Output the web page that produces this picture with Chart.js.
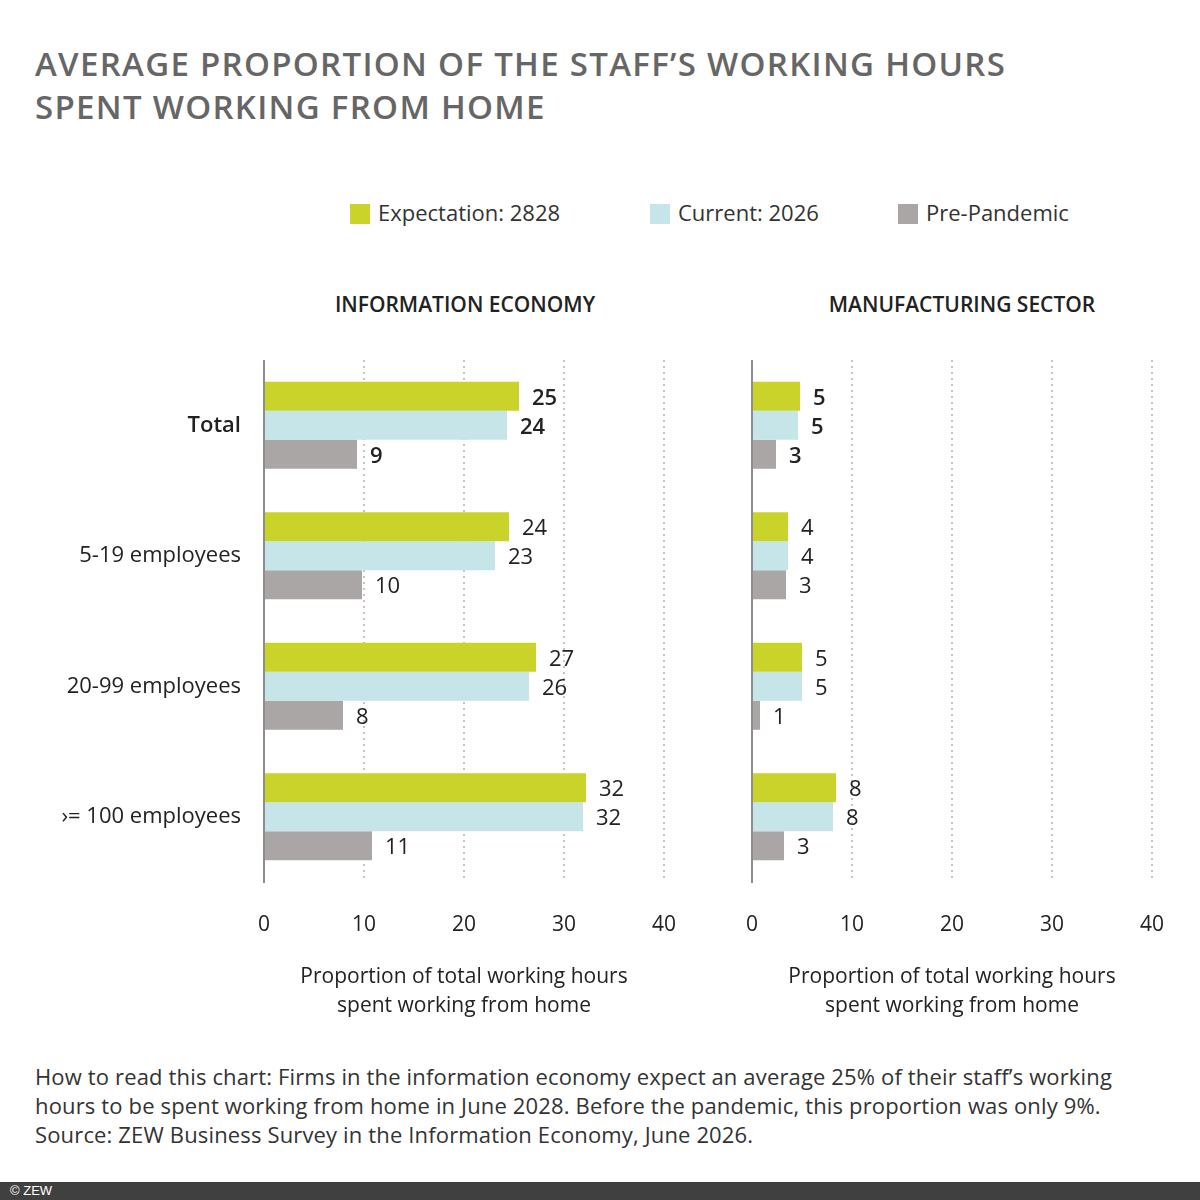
<!DOCTYPE html>
<html>
<head>
<meta charset="utf-8">
<script src="https://cdn.jsdelivr.net/npm/chart.js@4.4.1/dist/chart.umd.min.js"></script>
<style>
  body { margin: 0; width: 1200px; height: 1200px; position: relative; background: #fff; overflow: hidden;
         font-family: "Open Sans", "Noto Sans", sans-serif; color: #222; }
  .title { position: absolute; left: 35px; top: 42px; font-size: 33px; font-weight: 600; color: #666;
           letter-spacing: 1.3px; line-height: 43px; }
  .legend { position: absolute; top: 197px; left: 0; width: 1200px; height: 30px; font-size: 22px; color: #333; }
  .legend .item { position: absolute; top: 0; white-space: nowrap; }
  .legend .box { display: inline-block; width: 20px; height: 20px; vertical-align: -3px; margin-right: 8px; }
  .panel { position: absolute; top: 290px; font-size: 21px; font-weight: 600; color: #222; text-align: center; width: 400px; }
  .box-canvas { position: absolute; }
  .note { position: absolute; left: 35px; top: 1062px; font-size: 22px; line-height: 29px; color: #333; letter-spacing: 0.15px; }
  .foot { position: absolute; left: 0; top: 1182px; width: 1200px; height: 18px; background: #404040;
          color: #fff; font-family: "Liberation Sans", Arial, sans-serif; font-size: 13px; line-height: 18px; padding-left: 10px; box-sizing: border-box; }
</style>
</head>
<body>
<div class="title">AVERAGE PROPORTION OF THE STAFF’S WORKING HOURS<br>SPENT WORKING FROM HOME</div>
<div class="legend" id="legend"></div>
<div class="panel" style="left:265px">INFORMATION ECONOMY</div>
<div class="panel" style="left:762px">MANUFACTURING SECTOR</div>
<div class="box-canvas" style="left:0;top:360px;width:700px;height:672px"><canvas id="infoChart"></canvas></div>
<div class="box-canvas" style="left:700px;top:360px;width:500px;height:672px"><canvas id="manuChart"></canvas></div>
<div class="note">How to read this chart: Firms in the information economy expect an average 25% of their staff’s working<br>hours to be spent working from home in June 2028. Before the pandemic, this proportion was only 9%.<br>Source: ZEW Business Survey in the Information Economy, June 2026.</div>
<div class="foot">© ZEW</div>

<script>
const categories = ['Total', '5-19 employees', '20-99 employees', '›= 100 employees'];
const seriesNames = ['Expectation: 2828', 'Current: 2026', 'Pre-Pandemic'];
const seriesColors = ['#c9d32a', '#c5e5e9', '#aaa6a5'];
const xTicks = [0, 10, 20, 30, 40];
const axisTitle = ['Proportion of total working hours', 'spent working from home'];

const infoExpectation = [25.5, 24.5, 27.2, 32.2];
const infoCurrent = [24.3, 23.1, 26.5, 31.9];
const infoPrePandemic = [9.3, 9.8, 7.9, 10.8];
const infoExpectationLabels = [25, 24, 27, 32];
const infoCurrentLabels = [24, 23, 26, 32];
const infoPrePandemicLabels = [9, 10, 8, 11];

// manufacturing sector
const manuExpectation = [4.8, 3.6, 5.0, 8.4];
const manuCurrent = [4.6, 3.6, 5.0, 8.1];
const manuPrePandemic = [2.4, 3.4, 0.8, 3.2];
const manuExpectationLabels = [5, 4, 5, 8];
const manuCurrentLabels = [5, 4, 5, 8];
const manuPrePandemicLabels = [3, 3, 1, 3];

const FONT = '"Open Sans", "Noto Sans", sans-serif';

// legend
const legendX = [350, 650, 898];
const legend = document.getElementById('legend');
seriesNames.forEach((name, i) => {
  const item = document.createElement('div');
  item.className = 'item';
  item.style.left = legendX[i] + 'px';
  item.innerHTML = '<span class="box" style="background:' + seriesColors[i] + '"></span>' + name;
  legend.appendChild(item);
});

// value labels next to the bars
const barLabels = {
  id: 'barLabels',
  afterDatasetsDraw(chart) {
    const ctx = chart.ctx;
    ctx.save();
    ctx.fillStyle = '#222';
    ctx.textAlign = 'left';
    ctx.textBaseline = 'middle';
    chart.data.datasets.forEach((ds, di) => {
      chart.getDatasetMeta(di).data.forEach((bar, i) => {
        ctx.font = (i === 0 ? '600 ' : '400 ') + '22px ' + FONT;
        ctx.fillText(String(ds.valueLabels[i]), bar.x + 13, bar.y + 2);
      });
    });
    ctx.restore();
  }
};

function makeChart(canvasId, values, labels, showCategories, leftWidth, rightPad) {
  return new Chart(document.getElementById(canvasId), {
    type: 'bar',
    data: {
      labels: categories,
      datasets: values.map((v, i) => ({
        label: seriesNames[i],
        data: v,
        valueLabels: labels[i],
        backgroundColor: seriesColors[i],
        borderWidth: 0,
        categoryPercentage: 0.667,
        barPercentage: 1.0
      }))
    },
    options: {
      indexAxis: 'y',
      responsive: true,
      maintainAspectRatio: false,
      animation: false,
      layout: { padding: { left: 0, right: rightPad, top: 0, bottom: 0 } },
      plugins: { legend: { display: false }, tooltip: { enabled: false } },
      scales: {
        x: {
          min: 0, max: 40,
          afterBuildTicks: scale => { scale.ticks = xTicks.map(v => ({ value: v })); },
          afterFit: scale => {
            scale.height = 150;
            scale.paddingLeft = 0;
            scale.paddingRight = 0;
          },
          grid: {
            drawTicks: false,
            color: ctx => (ctx.tick && ctx.tick.value === 0) ? 'rgba(0,0,0,0)' : '#c4c4c4',
            lineWidth: 2
          },
          border: { display: false, dash: [2, 4] },
          ticks: { padding: 30, color: '#222', font: { family: FONT, size: 21 } },
          title: {
            display: true, text: axisTitle, color: '#222',
            font: { family: FONT, size: 21, lineHeight: 29 / 21 },
            padding: { top: 0, bottom: 11 }
          }
        },
        y: {
          afterFit: scale => {
            scale.width = leftWidth;
            scale.paddingTop = 0;
            scale.paddingBottom = 0;
          },
          grid: { display: false, drawTicks: false },
          border: { display: true, color: '#8e8e8e', width: 2 },
          ticks: {
            display: showCategories,
            padding: 23,
            color: '#222',
            font: ctx => ({ family: FONT, size: 22, weight: ctx.index === 0 ? '600' : '400' })
          }
        }
      }
    },
    plugins: [barLabels]
  });
}

makeChart('infoChart',
  [infoExpectation, infoCurrent, infoPrePandemic],
  [infoExpectationLabels, infoCurrentLabels, infoPrePandemicLabels],
  true, 264, 36);

makeChart('manuChart',
  [manuExpectation, manuCurrent, manuPrePandemic],
  [manuExpectationLabels, manuCurrentLabels, manuPrePandemicLabels],
  false, 52, 48);
</script>
</body>
</html>
